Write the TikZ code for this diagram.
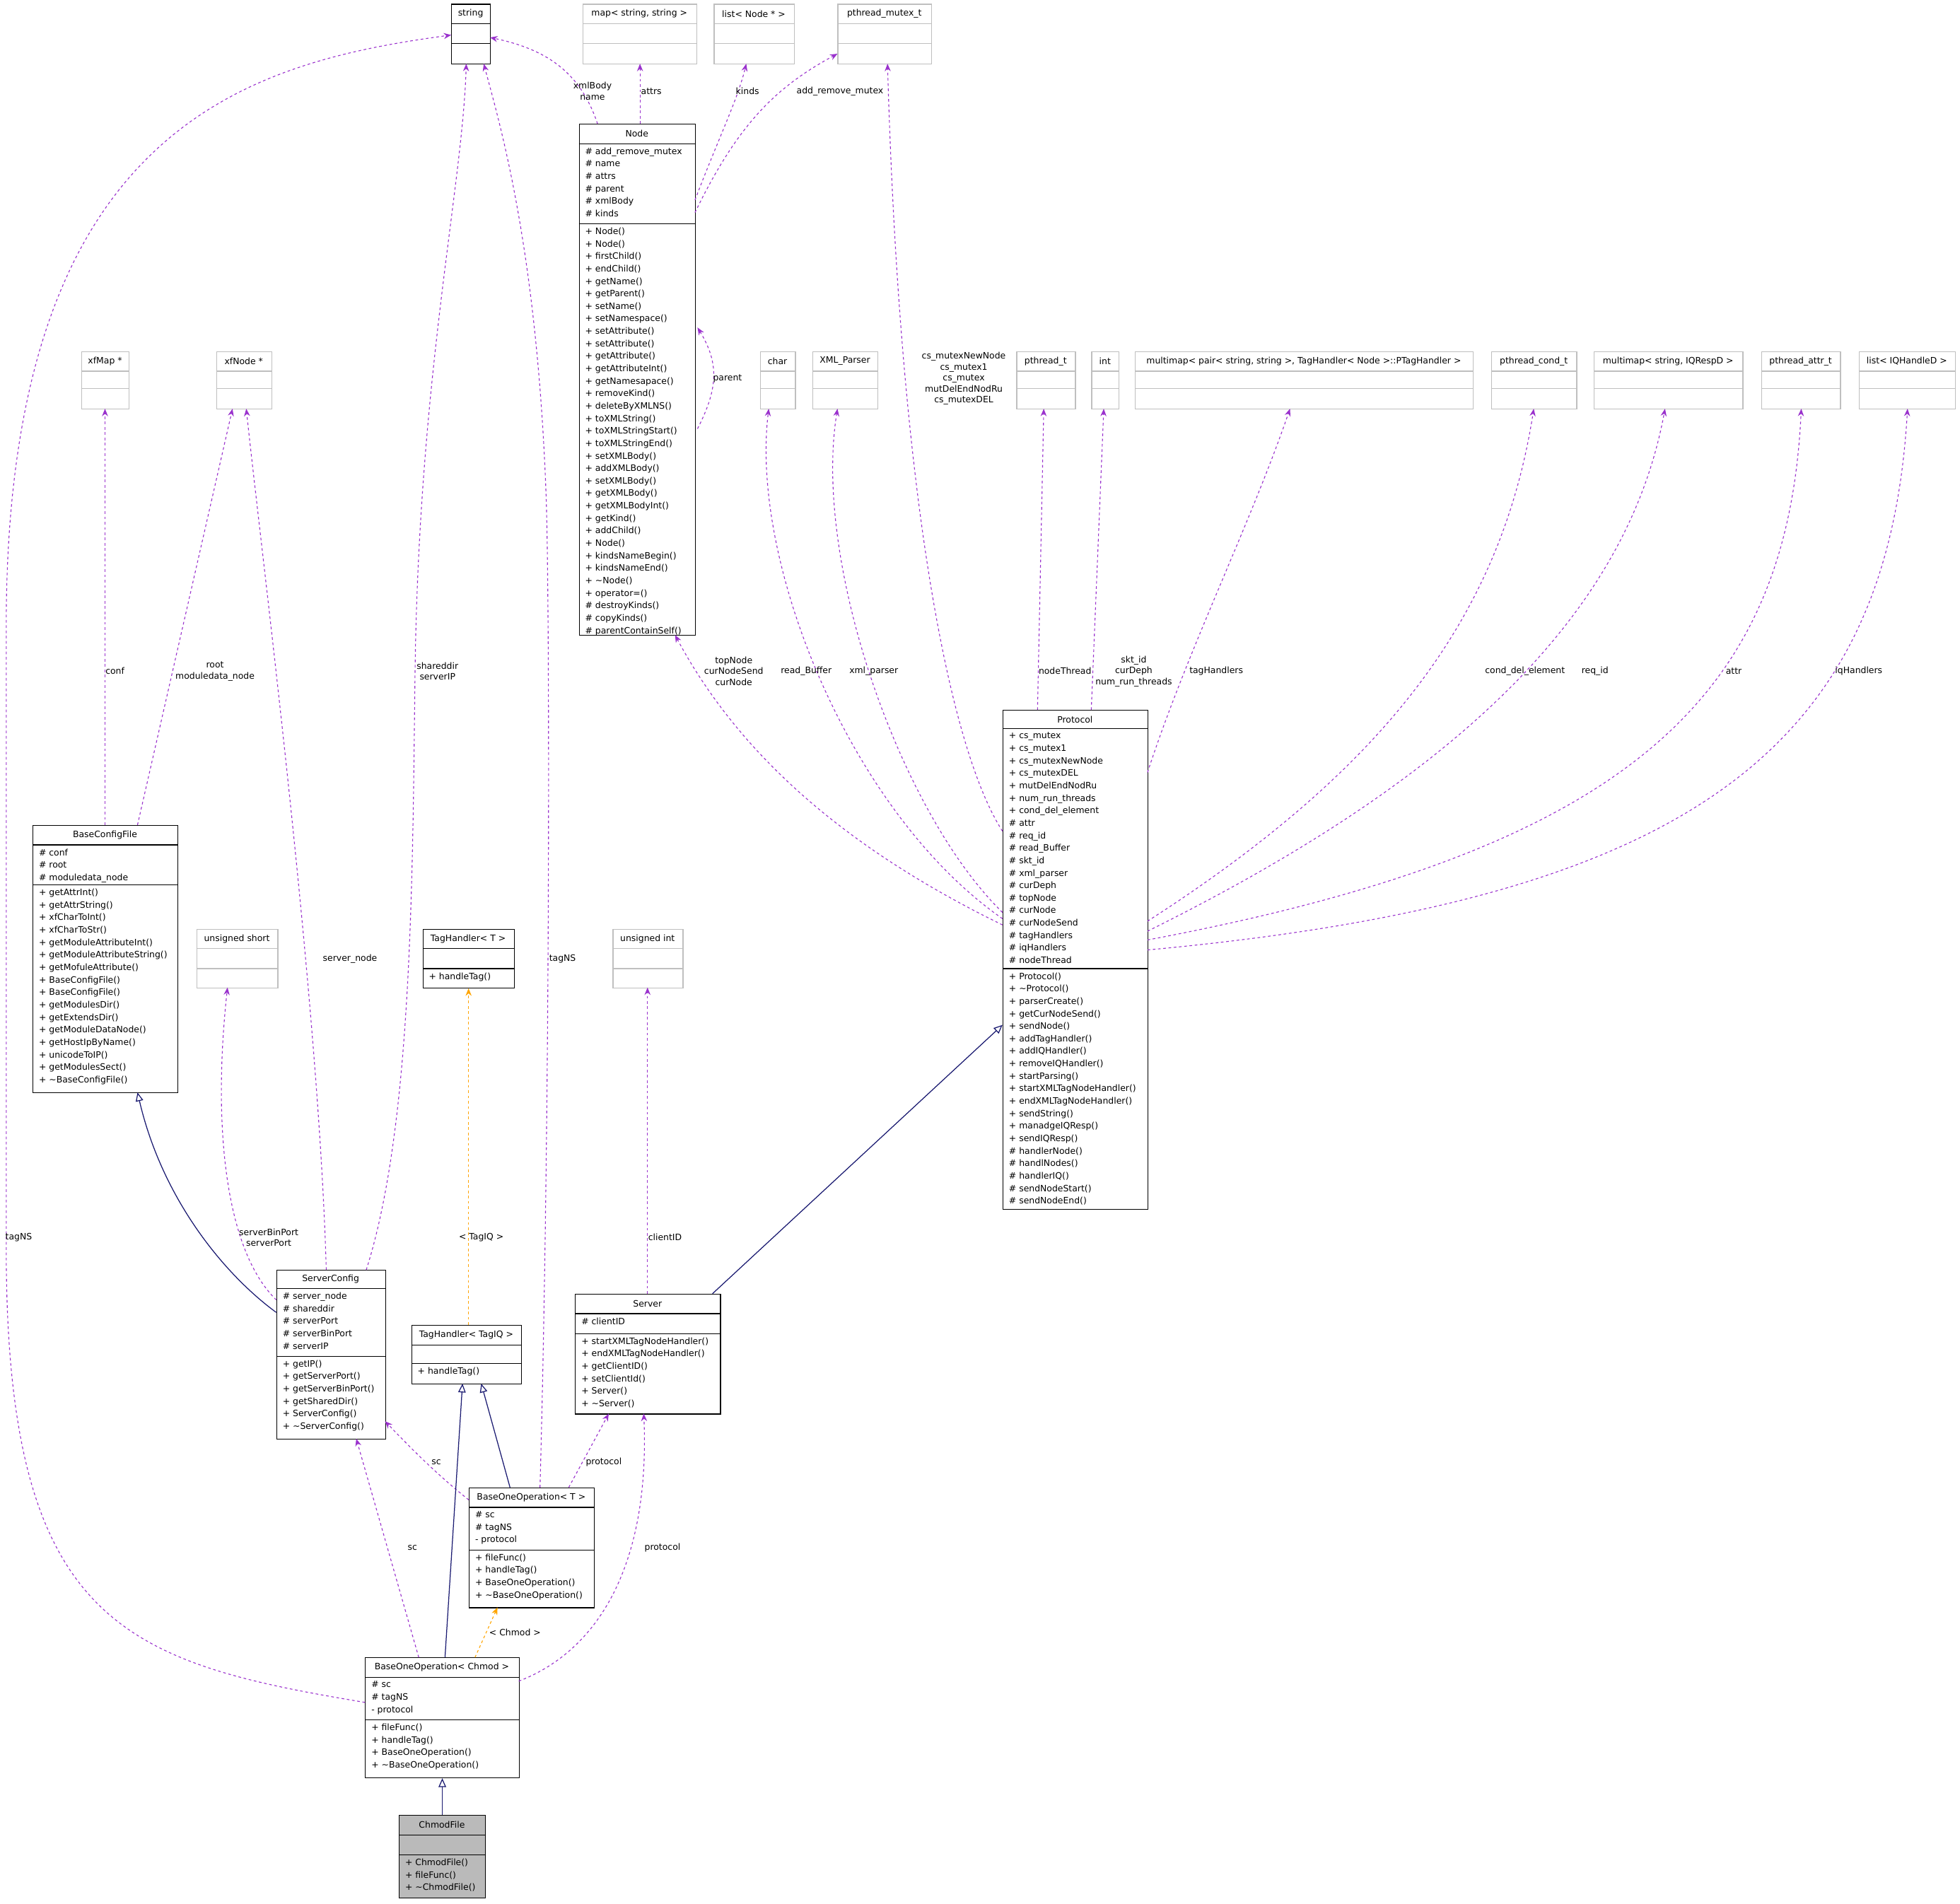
\documentclass[tikz,border=0pt]{standalone}
\usepackage{fontspec}
\setmainfont{DejaVu Sans}
\usetikzlibrary{arrows.meta, calc}
\definecolor{depcolor}{RGB}{154,50,205}
\definecolor{tplcolor}{RGB}{255,165,0}
\definecolor{inhcolor}{RGB}{25,25,112}
\definecolor{ghostcolor}{RGB}{191,191,191}

% box with title row and two compartments
\newcommand\umlclass[9]{%
  \node[#1, anchor=north west, inner sep=0pt, minimum width={(#4-#3)*0.05cm}, minimum height={(#8-#5)*0.05cm}] (#2) at (#3,#5) {};
  \draw[#1, fill=none] (#3,#6) -- (#4,#6) (#3,#7) -- (#4,#7);
  \node[txt] at ({(#3+#4)/2},{(#5+#6)/2}) {#9};
}
\newcommand\members[3]{\node[txt, anchor=north west, align=left] at (#1+5,#2+3) {#3};}

\begin{document}
\begin{tikzpicture}[
    x=0.05cm, y=-0.05cm,
    txt/.style={font=\fontsize{10}{14.2}\selectfont, inner sep=0pt},
    cls/.style={draw=black, line width=1pt, fill=white},
    ghost/.style={draw=ghostcolor, line width=1pt, fill=white},
    hl/.style={draw=black, line width=1pt, fill=black!27},
    lbl/.style={font=\fontsize{10}{12.5}\selectfont, inner sep=1pt, align=center},
    dep/.style={-{Stealth[length=3mm, width=2.4mm]}, dashed, depcolor, line width=0.9pt},
    tpl/.style={-{Stealth[length=3mm, width=2.4mm]}, dashed, tplcolor, line width=0.9pt},
    inh/.style={-{Triangle[open, length=3.5mm, width=3mm, fill=white]}, inhcolor, line width=1pt}
]
    \useasboundingbox (0,0) rectangle (1568,1523);

    % top row
    \umlclass{cls}{str}{361}{392}{3}{19}{35}{51}{string}
    \umlclass{ghost}{map}{466}{557}{3}{19}{35}{51}{map< string, string >}
    \umlclass{ghost}{lst}{571}{635}{3}{19}{35}{51}{list< Node * >}
    \umlclass{ghost}{pmx}{670}{745}{3}{19}{35}{51}{pthread\_mutex\_t}

    % Node
    \umlclass{cls}{node}{463}{556}{99}{115}{179}{508}{Node}
    \members{463}{115}{\# add\_remove\_mutex\\\# name\\\# attrs\\\# parent\\\# xmlBody\\\# kinds}
    \members{463}{179}{+ Node()\\+ Node()\\+ firstChild()\\+ endChild()\\+ getName()\\+ getParent()\\+ setName()\\+ setNamespace()\\+ setAttribute()\\+ setAttribute()\\+ getAttribute()\\+ getAttributeInt()\\+ getNamesapace()\\+ removeKind()\\+ deleteByXMLNS()\\+ toXMLString()\\+ toXMLStringStart()\\+ toXMLStringEnd()\\+ setXMLBody()\\+ addXMLBody()\\+ setXMLBody()\\+ getXMLBody()\\+ getXMLBodyInt()\\+ getKind()\\+ addChild()\\+ Node()\\+ kindsNameBegin()\\+ kindsNameEnd()\\+ \textasciitilde Node()\\+ operator=()\\\# destroyKinds()\\\# copyKinds()\\\# parentContainSelf()}

    % second row of plain types
    \umlclass{ghost}{xfm}{65}{103}{281}{297}{311}{327}{xfMap *}
    \umlclass{ghost}{xfn}{173}{217}{281}{297}{311}{327}{xfNode *}
    \umlclass{ghost}{chr}{608}{636}{281}{297}{311}{327}{char}
    \umlclass{ghost}{xmlp}{650}{702}{281}{297}{311}{327}{XML\_Parser}
    \umlclass{ghost}{pth}{813}{860}{281}{297}{311}{327}{pthread\_t}
    \umlclass{ghost}{int}{873}{895}{281}{297}{311}{327}{int}
    \umlclass{ghost}{mmp}{908}{1178}{281}{297}{311}{327}{multimap< pair< string, string >, TagHandler< Node >::PTagHandler >}
    \umlclass{ghost}{pcd}{1193}{1261}{281}{297}{311}{327}{pthread\_cond\_t}
    \umlclass{ghost}{mmi}{1275}{1394}{281}{297}{311}{327}{multimap< string, IQRespD >}
    \umlclass{ghost}{pat}{1409}{1472}{281}{297}{311}{327}{pthread\_attr\_t}
    \umlclass{ghost}{lih}{1487}{1564}{281}{297}{311}{327}{list< IQHandleD >}

    % Protocol
    \umlclass{cls}{proto}{802}{918}{568}{583}{775}{967}{Protocol}
    \members{802}{583}{+ cs\_mutex\\+ cs\_mutex1\\+ cs\_mutexNewNode\\+ cs\_mutexDEL\\+ mutDelEndNodRu\\+ num\_run\_threads\\+ cond\_del\_element\\\# attr\\\# req\_id\\\# read\_Buffer\\\# skt\_id\\\# xml\_parser\\\# curDeph\\\# topNode\\\# curNode\\\# curNodeSend\\\# tagHandlers\\\# iqHandlers\\\# nodeThread}
    \members{802}{775}{+ Protocol()\\+ \textasciitilde Protocol()\\+ parserCreate()\\+ getCurNodeSend()\\+ sendNode()\\+ addTagHandler()\\+ addIQHandler()\\+ removeIQHandler()\\+ startParsing()\\+ startXMLTagNodeHandler()\\+ endXMLTagNodeHandler()\\+ sendString()\\+ manadgeIQResp()\\+ sendIQResp()\\\# handlerNode()\\\# handlNodes()\\\# handlerIQ()\\\# sendNodeStart()\\\# sendNodeEnd()}

    % BaseConfigFile
    \umlclass{cls}{bcf}{26}{142}{660}{676}{708}{874}{BaseConfigFile}
    \members{26}{676}{\# conf\\\# root\\\# moduledata\_node}
    \members{26}{708}{+ getAttrInt()\\+ getAttrString()\\+ xfCharToInt()\\+ xfCharToStr()\\+ getModuleAttributeInt()\\+ getModuleAttributeString()\\+ getMofuleAttribute()\\+ BaseConfigFile()\\+ BaseConfigFile()\\+ getModulesDir()\\+ getExtendsDir()\\+ getModuleDataNode()\\+ getHostIpByName()\\+ unicodeToIP()\\+ getModulesSect()\\+ \textasciitilde BaseConfigFile()}

    \umlclass{ghost}{ush}{157}{222}{743}{759}{775}{790}{unsigned short}
    \umlclass{cls}{tht}{338}{411}{743}{759}{775}{790}{TagHandler< T >}
    \members{338}{775}{+ handleTag()}
    \umlclass{ghost}{uin}{490}{546}{743}{759}{775}{790}{unsigned int}

    % ServerConfig
    \umlclass{cls}{scfg}{221}{308}{1016}{1031}{1085}{1151}{ServerConfig}
    \members{221}{1031}{\# server\_node\\\# shareddir\\\# serverPort\\\# serverBinPort\\\# serverIP}
    \members{221}{1085}{+ getIP()\\+ getServerPort()\\+ getServerBinPort()\\+ getSharedDir()\\+ ServerConfig()\\+ \textasciitilde ServerConfig()}

    \umlclass{cls}{thq}{329}{417}{1060}{1076}{1091}{1107}{TagHandler< TagIQ >}
    \members{329}{1091}{+ handleTag()}

    % Server
    \umlclass{cls}{srv}{460}{576}{1035}{1051}{1067}{1131}{Server}
    \members{460}{1051}{\# clientID}
    \members{460}{1067}{+ startXMLTagNodeHandler()\\+ endXMLTagNodeHandler()\\+ getClientID()\\+ setClientId()\\+ Server()\\+ \textasciitilde Server()}

    % BaseOneOperation< T >
    \umlclass{cls}{boot}{375}{475}{1190}{1206}{1240}{1286}{BaseOneOperation< T >}
    \members{375}{1206}{\# sc\\\# tagNS\\- protocol}
    \members{375}{1240}{+ fileFunc()\\+ handleTag()\\+ BaseOneOperation()\\+ \textasciitilde BaseOneOperation()}

    % BaseOneOperation< Chmod >
    \umlclass{cls}{booc}{292}{415}{1326}{1342}{1376}{1422}{BaseOneOperation< Chmod >}
    \members{292}{1342}{\# sc\\\# tagNS\\- protocol}
    \members{292}{1376}{+ fileFunc()\\+ handleTag()\\+ BaseOneOperation()\\+ \textasciitilde BaseOneOperation()}

    % ChmodFile
    \umlclass{hl}{chm}{319}{388}{1452}{1468}{1484}{1518}{ChmodFile}
    \members{319}{1484}{+ ChmodFile()\\+ fileFunc()\\+ \textasciitilde ChmodFile()}

    % usage connectors to string
    \draw[dep] ($(booc.north west)+(0,36)$) .. controls (100,1330) and (5,1300) .. (5,1000) -- (5,500) .. controls (5,100) and (200,50) .. ($(str.north west)+(0,25)$);
    \node[lbl] (lTagNSa) at (15,990) {tagNS};
    \draw[dep] ($(scfg.north west)+(72,0)$) .. controls (330,900) and (330,700) .. (332,540) .. controls (335,300) and (370,150) .. ($(str.north west)+(12,48)$);
    \node[lbl] (lShared) at (350,537) {shareddir\\serverIP};
    \draw[dep] ($(boot.north west)+(57,0)$) .. controls (440,900) and (440,500) .. (437,400) .. controls (430,200) and (400,100) .. ($(str.north west)+(26,48)$);
    \node[lbl] (lTagNSb) at (450,767) {tagNS};
    \draw[dep] ($(node.north west)+(15,0)$) .. controls (465,60) and (440,40) .. ($(str.north west)+(31,27)$);
    \node[lbl] (lXml) at (474,73) {xmlBody\\name};

    % Node members
    \draw[dep] ($(node.north west)+(49,0)$) -- ($(map.north west)+(46,48)$);
    \node[lbl, anchor=west] (lAttrs) at (512,73) {attrs};
    \draw[dep] ($(node.north west)+(93,61)$) .. controls (575,110) and (590,80) .. ($(lst.north west)+(26,48)$);
    \node[lbl] (lKinds) at (598,73) {kinds};
    \draw[dep] ($(node.north west)+(93,71)$) .. controls (590,100) and (620,70) .. ($(pmx.north west)+(0,40)$);
    \node[lbl] (lArm) at (672,73) {add\_remove\_mutex};
    \draw[dep] ($(node.north west)+(95,244)$) .. controls (575,310) and (575,290) .. ($(node.north west)+(95,163)$);
    \node[lbl] (lParent) at (582,303) {parent};

    % BaseConfigFile / ServerConfig members
    \draw[dep] ($(bcf.north west)+(58,0)$) -- ($(xfm.north west)+(19,46)$);
    \node[lbl] (lConf) at (92,537) {conf};
    \draw[dep] ($(bcf.north west)+(84,0)$) -- ($(xfn.north west)+(13,46)$);
    \node[lbl] (lRoot) at (172,537) {root\\moduledata\_node};
    \draw[dep] ($(scfg.north west)+(40,0)$) .. controls (255,800) and (210,450) .. ($(xfn.north west)+(24,46)$);
    \node[lbl] (lSrvNode) at (280,767) {server\_node};
    \draw[dep] ($(scfg.north west)+(0,24)$) .. controls (180,1000) and (170,900) .. ($(ush.north west)+(25,47)$);
    \node[lbl] (lPorts) at (215,990) {serverBinPort\\serverPort};
    \draw[inh] ($(scfg.north west)+(0,34)$) .. controls (180,1020) and (130,960) .. ($(bcf.north west)+(84,214)$);

    % templates
    \draw[tpl] (thq.north -| tht.south) -- (tht.south);
    \node[lbl] (lTagIQ) at (385,990) {< TagIQ >};

    % Server
    \draw[dep] ($(srv.north west)+(58,0)$) -- ($(uin.north west)+(28,47)$);
    \node[lbl] (lClient) at (532,990) {clientID};
    \draw[inh] ($(srv.north west)+(110,0)$) -- ($(proto.north west)+(0,252)$);

    % Protocol members
    \draw[dep] ($(proto.north west)+(0,172)$) .. controls (700,690) and (600,620) .. ($(node.north west)+(77,409)$);
    \node[lbl] (lTop) at (587,537) {topNode\\curNodeSend\\curNode};
    \draw[dep] ($(proto.north west)+(0,167)$) .. controls (680,650) and (600,450) .. ($(chr.north west)+(7,46)$);
    \node[lbl] (lRead) at (645,537) {read\_Buffer};
    \draw[dep] ($(proto.north west)+(0,162)$) .. controls (720,650) and (650,450) .. ($(xmlp.north west)+(20,46)$);
    \node[lbl] (lXmlp) at (699,537) {xml\_parser};
    \draw[dep] ($(proto.north west)+(0,97)$) .. controls (760,600) and (720,400) .. ($(pmx.north west)+(40,48)$);
    \node[lbl] (lMtx) at (771,303) {cs\_mutexNewNode\\cs\_mutex1\\cs\_mutex\\mutDelEndNodRu\\cs\_mutexDEL};
    \draw[dep] ($(proto.north west)+(28,0)$) -- ($(pth.north west)+(22,46)$);
    \node[lbl] (lNodeThr) at (852,537) {nodeThread};
    \draw[dep] ($(proto.north west)+(71,0)$) -- ($(int.north west)+(10,46)$);
    \node[lbl] (lSkt) at (907,537) {skt\_id\\curDeph\\num\_run\_threads};
    \draw[dep] ($(proto.north west)+(116,50)$) .. controls (950,520) and (1000,420) .. ($(mmp.north west)+(124,46)$);
    \node[lbl] (lTagH) at (973,537) {tagHandlers};
    \draw[dep] ($(proto.north west)+(116,169)$) .. controls (1100,620) and (1200,500) .. ($(pcd.north west)+(34,46)$);
    \node[lbl] (lCond) at (1220,537) {cond\_del\_element};
    \draw[dep] ($(proto.north west)+(116,177)$) .. controls (1150,630) and (1300,500) .. ($(mmi.north west)+(57,46)$);
    \node[lbl] (lReq) at (1276,537) {req\_id};
    \draw[dep] ($(proto.north west)+(116,184)$) .. controls (1300,680) and (1430,560) .. ($(pat.north west)+(32,46)$);
    \node[lbl] (lAttr) at (1387,537) {attr};
    \draw[dep] ($(proto.north west)+(116,192)$) .. controls (1350,720) and (1510,600) .. ($(lih.north west)+(39,46)$);
    \node[lbl] (lIq) at (1487,537) {iqHandlers};

    % BaseOneOperation< T >
    \draw[dep] ($(boot.north west)+(0,10)$) .. controls (350,1180) and (330,1160) .. ($(scfg.north west)+(87,121)$);
    \node[lbl] (lScA) at (349,1170) {sc};
    \draw[dep] ($(boot.north west)+(80,0)$) -- ($(srv.north west)+(27,96)$);
    \node[lbl] (lProtA) at (483,1170) {protocol};
    \draw[inh] ($(boot.north west)+(33,0)$) -- ($(thq.north west)+(56,47)$);

    % BaseOneOperation< Chmod >
    \draw[inh] ($(booc.north west)+(64,0)$) -- ($(thq.north west)+(41,47)$);
    \draw[dep] ($(booc.north west)+(43,0)$) -- ($(scfg.north west)+(64,135)$);
    \node[lbl] (lScB) at (330,1238) {sc};
    \draw[dep] ($(booc.north west)+(123,19)$) .. controls (480,1320) and (520,1250) .. ($(srv.north west)+(55,96)$);
    \node[lbl] (lProtB) at (530,1238) {protocol};
    \draw[tpl] ($(booc.north west)+(88,0)$) -- ($(boot.north west)+(23,96)$);
    \node[lbl] (lChmod) at (412,1306) {< Chmod >};
    \draw[inh] (chm.north) -- (chm.north |- booc.south);
\end{tikzpicture}
\end{document}
